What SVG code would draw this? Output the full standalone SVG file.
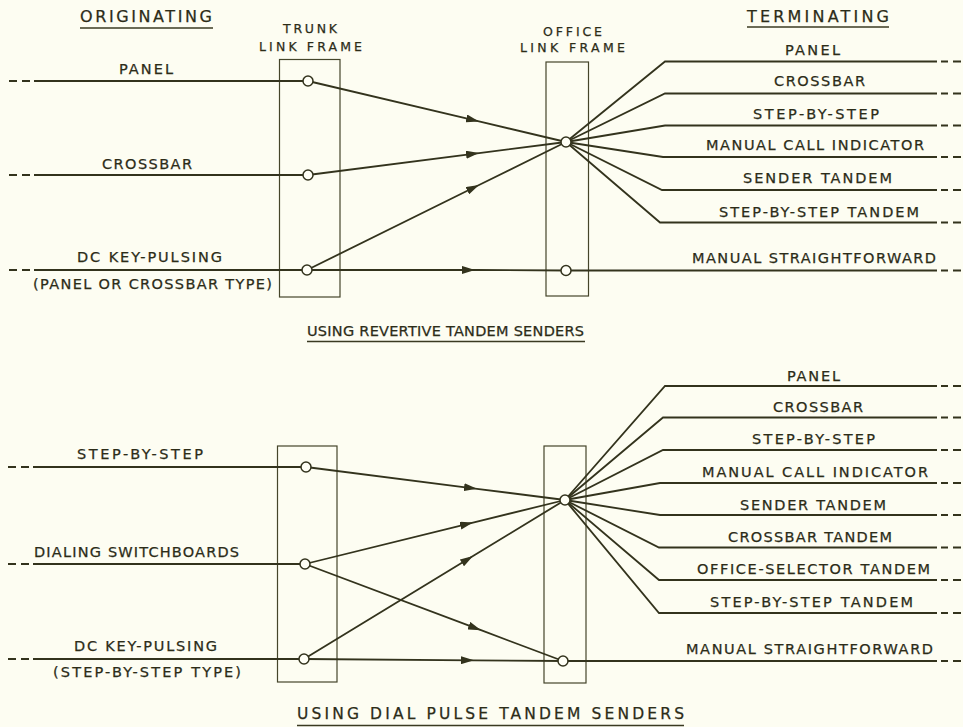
<svg xmlns="http://www.w3.org/2000/svg" width="963" height="727" viewBox="0 0 963 727">
<defs>
<style>
.ln{stroke:#33331d;stroke-width:1.8;fill:none;stroke-linecap:butt}
.fr{stroke:#45452a;stroke-width:1.2;fill:none}
.nd{fill:#fffff6;stroke:#33331d;stroke-width:1.5}
.t{font-family:"DejaVu Sans","Liberation Sans",Arial,sans-serif;font-size:14.5px;fill:#2c2c18;stroke:#2c2c18;stroke-width:0.25;text-anchor:middle}
.hd{font-size:12.5px}
.ti{font-size:16px}
.bt{font-size:15.5px}
.ul{stroke:#3a3a22;stroke-width:1.5;fill:none}
</style>
<marker id="arr" viewBox="0 0 13 8" refX="13" refY="4" markerWidth="13" markerHeight="8" markerUnits="userSpaceOnUse" orient="auto">
<path d="M0,0 L13,4 L0,8 z" fill="#33331d"/>
</marker>
</defs>
<rect x="0" y="0" width="963" height="727" fill="#fdfdf2"/>

<!-- headings -->
<g id="heading-originating">
<text class="t ti" x="146" y="22" textLength="132" lengthAdjust="spacing">ORIGINATING</text>
<path class="ul" d="M80,28 H213"/>
</g>
<g id="heading-terminating">
<text class="t ti" x="818" y="22" textLength="142" lengthAdjust="spacing">TERMINATING</text>
<path class="ul" d="M747,27 H889"/>
</g>

<!-- frames -->
<g id="top-trunk-link-frame">
<rect class="fr" x="279.5" y="59.5" width="60.5" height="237.5"/>
<text class="t hd" x="310" y="33" textLength="54" lengthAdjust="spacing">TRUNK</text>
<text class="t hd" x="310.5" y="51" textLength="103" lengthAdjust="spacing">LINK FRAME</text>
</g>
<g id="top-office-link-frame">
<rect class="fr" x="546" y="62" width="42.5" height="234"/>
<text class="t hd" x="572.5" y="36" textLength="59" lengthAdjust="spacing">OFFICE</text>
<text class="t hd" x="572.5" y="52" textLength="105" lengthAdjust="spacing">LINK FRAME</text>
</g>
<g id="bottom-trunk-link-frame">
<rect class="fr" x="277.5" y="446" width="59.5" height="236"/>
</g>
<g id="bottom-office-link-frame">
<rect class="fr" x="544" y="446" width="42" height="237"/>
</g>

<!-- connectors -->
<g id="connectors">
<path class="ln" d="M9,81 H17 M22,81 H30 M34,81 H308"/>
<path class="ln" d="M9,175 H17 M22,175 H30 M34,175 H308"/>
<path class="ln" d="M9,270 H17 M22,270 H30 M34,270 H307"/>
<path class="ln" marker-mid="url(#arr)" d="M308,81 L479,121.4 L566,142"/>
<path class="ln" marker-mid="url(#arr)" d="M308,175 L479,153.1 L566,142"/>
<path class="ln" marker-mid="url(#arr)" d="M307,270 L479,185 L566,142"/>
<path class="ln" marker-mid="url(#arr)" d="M307,270 L475,270 L566,270.5"/>
<path class="ln" d="M566,142 L665,61.5 H937 M941,61.5 H948 M953,61.5 H961"/>
<path class="ln" d="M566,142 L665,93.5 H937 M941,93.5 H948 M953,93.5 H961"/>
<path class="ln" d="M566,142 L665,125.5 H937 M941,125.5 H948 M953,125.5 H961"/>
<path class="ln" d="M566,142 L663,157 H937 M941,157 H948 M953,157 H961"/>
<path class="ln" d="M566,142 L662,190 H937 M941,190 H948 M953,190 H961"/>
<path class="ln" d="M566,142 L660,222.5 H937 M941,222.5 H948 M953,222.5 H961"/>
<path class="ln" d="M566,270.5 H937 M941,270.5 H948 M953,270.5 H961"/>

<path class="ln" d="M8,467 H16 M21,467 H29 M33,467 H306"/>
<path class="ln" d="M8,564 H16 M21,564 H29 M33,564 H305"/>
<path class="ln" d="M8,659 H16 M21,659 H29 M33,659 H304"/>
<path class="ln" marker-mid="url(#arr)" d="M306,467 L477,488.8 L565,500"/>
<path class="ln" marker-mid="url(#arr)" d="M305,564 L473,522.6 L565,500"/>
<path class="ln" marker-mid="url(#arr)" d="M304,659 L473,556.1 L565,500"/>
<path class="ln" marker-mid="url(#arr)" d="M305,564 L481,630.2 L563,661"/>
<path class="ln" marker-mid="url(#arr)" d="M304,659 L474,660.3 L563,661"/>
<path class="ln" d="M565,500 L665,386 H937 M941,386 H948 M953,386 H961"/>
<path class="ln" d="M565,500 L663,417.5 H937 M941,417.5 H948 M953,417.5 H961"/>
<path class="ln" d="M565,500 L663,450 H937 M941,450 H948 M953,450 H961"/>
<path class="ln" d="M565,500 L660,483 H937 M941,483 H948 M953,483 H961"/>
<path class="ln" d="M565,500 L660,515 H937 M941,515 H948 M953,515 H961"/>
<path class="ln" d="M565,500 L659,547.5 H937 M941,547.5 H948 M953,547.5 H961"/>
<path class="ln" d="M565,500 L659,580 H937 M941,580 H948 M953,580 H961"/>
<path class="ln" d="M565,500 L659,613 H937 M941,613 H948 M953,613 H961"/>
<path class="ln" d="M563,661 H937 M941,661 H948 M953,661 H961"/>
</g>

<!-- junction nodes -->
<g id="top-trunk-panel"><circle class="nd" cx="308" cy="81" r="5"/></g>
<g id="top-trunk-crossbar"><circle class="nd" cx="308" cy="175" r="5"/></g>
<g id="top-trunk-dc"><circle class="nd" cx="307" cy="270" r="5"/></g>
<g id="top-office-hub"><circle class="nd" cx="566" cy="142" r="5"/></g>
<g id="top-office-manual"><circle class="nd" cx="566" cy="270.5" r="5"/></g>
<g id="bottom-trunk-sbs"><circle class="nd" cx="306" cy="467" r="5"/></g>
<g id="bottom-trunk-dialing"><circle class="nd" cx="305" cy="564" r="5"/></g>
<g id="bottom-trunk-dc"><circle class="nd" cx="304" cy="659" r="5"/></g>
<g id="bottom-office-hub"><circle class="nd" cx="565" cy="500" r="5"/></g>
<g id="bottom-office-manual"><circle class="nd" cx="563" cy="661" r="5"/></g>

<!-- top originating labels -->
<g id="orig-top-panel"><text class="t" x="146" y="74" textLength="54" lengthAdjust="spacing">PANEL</text></g>
<g id="orig-top-crossbar"><text class="t" x="147" y="169" textLength="90" lengthAdjust="spacing">CROSSBAR</text></g>
<g id="orig-top-dc">
<text class="t" x="149.5" y="262" textLength="145" lengthAdjust="spacing">DC KEY-PULSING</text>
<text class="t" x="152.5" y="289" textLength="239" lengthAdjust="spacing">(PANEL OR CROSSBAR TYPE)</text>
</g>

<!-- top terminating labels -->
<g id="term-top-panel"><text class="t" x="812.5" y="55" textLength="55" lengthAdjust="spacing">PANEL</text></g>
<g id="term-top-crossbar"><text class="t" x="819.5" y="86" textLength="91" lengthAdjust="spacing">CROSSBAR</text></g>
<g id="term-top-sbs"><text class="t" x="816" y="119" textLength="126" lengthAdjust="spacing">STEP-BY-STEP</text></g>
<g id="term-top-mci"><text class="t" x="815" y="150" textLength="218" lengthAdjust="spacing">MANUAL CALL INDICATOR</text></g>
<g id="term-top-sender-tandem"><text class="t" x="817.5" y="183" textLength="149" lengthAdjust="spacing">SENDER TANDEM</text></g>
<g id="term-top-sbs-tandem"><text class="t" x="819" y="217" textLength="200" lengthAdjust="spacing">STEP-BY-STEP TANDEM</text></g>
<g id="term-top-manual-sf"><text class="t" x="814" y="263" textLength="244" lengthAdjust="spacing">MANUAL STRAIGHTFORWARD</text></g>

<g id="title-top">
<text class="t" x="445.5" y="336" textLength="277" lengthAdjust="spacing">USING REVERTIVE TANDEM SENDERS</text>
<path class="ul" d="M307,341.5 H585"/>
</g>

<!-- bottom originating labels -->
<g id="orig-bottom-sbs"><text class="t" x="140" y="459" textLength="126" lengthAdjust="spacing">STEP-BY-STEP</text></g>
<g id="orig-bottom-dialing"><text class="t" x="136.5" y="557" textLength="205" lengthAdjust="spacing">DIALING SWITCHBOARDS</text></g>
<g id="orig-bottom-dc">
<text class="t" x="145.5" y="651" textLength="143" lengthAdjust="spacing">DC KEY-PULSING</text>
<text class="t" x="147" y="677" textLength="188" lengthAdjust="spacing">(STEP-BY-STEP TYPE)</text>
</g>

<!-- bottom terminating labels -->
<g id="term-bottom-panel"><text class="t" x="813.5" y="381" textLength="53" lengthAdjust="spacing">PANEL</text></g>
<g id="term-bottom-crossbar"><text class="t" x="818" y="412" textLength="90" lengthAdjust="spacing">CROSSBAR</text></g>
<g id="term-bottom-sbs"><text class="t" x="813.5" y="444" textLength="123" lengthAdjust="spacing">STEP-BY-STEP</text></g>
<g id="term-bottom-mci"><text class="t" x="815" y="477" textLength="226" lengthAdjust="spacing">MANUAL CALL INDICATOR</text></g>
<g id="term-bottom-sender-tandem"><text class="t" x="813" y="510" textLength="146" lengthAdjust="spacing">SENDER TANDEM</text></g>
<g id="term-bottom-crossbar-tandem"><text class="t" x="810" y="542" textLength="164" lengthAdjust="spacing">CROSSBAR TANDEM</text></g>
<g id="term-bottom-office-selector-tandem"><text class="t" x="813.5" y="574" textLength="233" lengthAdjust="spacing">OFFICE-SELECTOR TANDEM</text></g>
<g id="term-bottom-sbs-tandem"><text class="t" x="811.5" y="607" textLength="203" lengthAdjust="spacing">STEP-BY-STEP TANDEM</text></g>
<g id="term-bottom-manual-sf"><text class="t" x="809.5" y="654" textLength="247" lengthAdjust="spacing">MANUAL STRAIGHTFORWARD</text></g>

<g id="title-bottom">
<text class="t bt" x="490.5" y="719" textLength="387" lengthAdjust="spacing">USING DIAL PULSE TANDEM SENDERS</text>
<path class="ul" d="M297,725.5 H684"/>
</g>
</svg>
